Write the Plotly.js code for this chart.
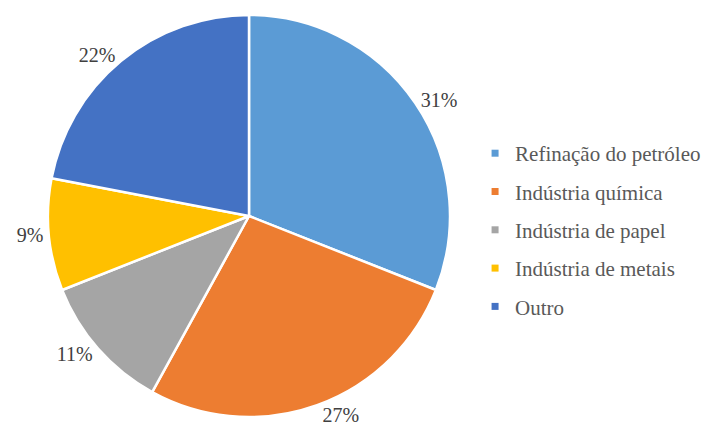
<!DOCTYPE html>
<html>
<head>
<meta charset="utf-8">
<script src="https://cdn.plot.ly/plotly-3.0.1.min.js"></script>
<style>
html,body{margin:0;padding:0;background:#fff;}
#chart{width:708px;height:430px;}
#chart text{font-family:'Liberation Serif','Times New Roman',serif !important;}
#fontprime{position:absolute;left:-9999px;top:0;font-family:'Liberation Serif';font-size:20px;}
</style>
</head>
<body>
<div id="fontprime" aria-hidden="true">Aa</div>
<div id="chart"></div>
<script>
const categories = ["Refinação do petróleo", "Indústria química", "Indústria de papel", "Indústria de metais", "Outro"];
const values = [31, 27, 11, 9, 22];
const colors = ["#5B9BD5", "#ED7D31", "#A5A5A5", "#FFC000", "#4472C4"];

const W = 708, H = 430;
const cx = 249, cy = 216, r = 201;
const FONT = "Liberation Serif";

function draw() {
  const pie = {
    type: "pie",
    labels: categories,
    values: values,
    sort: false,
    direction: "clockwise",
    rotation: 0,
    textinfo: "percent",
    texttemplate: "%{percent:.0%}",
    textposition: "outside",
    outsidetextfont: {family: FONT, size: 20, color: "#404040"},
    marker: {colors: colors, line: {color: "#ffffff", width: 2.5}},
    domain: {x: [(cx - r) / W, (cx + r) / W], y: [1 - (cy + r) / H, 1 - (cy - r) / H]},
    showlegend: false,
    hoverinfo: "label+percent"
  };

  const legendTraces = categories.map((c, i) => ({
    type: "scatter",
    x: [null], y: [null],
    mode: "markers",
    name: c,
    legendgroup: "g" + i,
    marker: {symbol: "square", size: 7, color: colors[i]},
    showlegend: true,
    hoverinfo: "skip"
  }));

  const layout = {
    width: W, height: H,
    margin: {l: 0, r: 0, t: 0, b: 0},
    paper_bgcolor: "#ffffff",
    plot_bgcolor: "rgba(0,0,0,0)",
    font: {family: FONT, size: 20, color: "#404040"},
    xaxis: {visible: false, showgrid: false, zeroline: false},
    yaxis: {visible: false, showgrid: false, zeroline: false},
    showlegend: true,
    legend: {
      x: 0.671, y: 0.465, xanchor: "left", yanchor: "middle",
      font: {family: FONT, size: 21, color: "#595959"},
      itemwidth: 30,
      tracegroupgap: 8,
      traceorder: "grouped"
    }
  };

  Plotly.newPlot("chart", [pie].concat(legendTraces), layout, {displayModeBar: false, staticPlot: true});
}

if (document.fonts && document.fonts.load) {
  Promise.all([
    document.fonts.load("20px 'Liberation Serif'"),
    document.fonts.load("21px 'Liberation Serif'")
  ]).then(draw, draw);
} else {
  draw();
}
</script>
</body>
</html>
